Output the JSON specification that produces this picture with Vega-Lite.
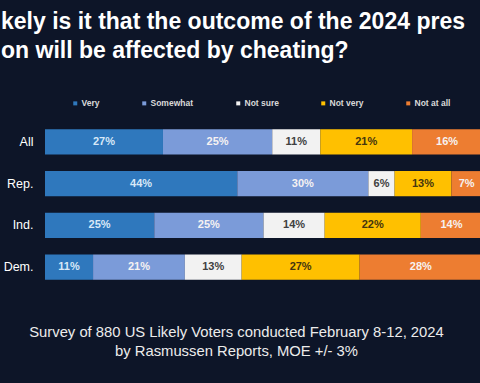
{
  "$schema": "https://vega.github.io/schema/vega-lite/v6.json",
  "width": 437,
  "height": 167,
  "autosize": {"type": "none"},
  "padding": {"left": 45, "top": 121, "right": 0, "bottom": 95},
  "background": "#0d1528",
  "view": {"stroke": null},
  "title": {
    "text": ["kely is it that the outcome of the 2024 pres", "on will be affected by cheating?"],
    "orient": "top",
    "anchor": "start",
    "frame": "group",
    "dx": -44,
    "offset": 36,
    "font": "Liberation Sans",
    "fontSize": 23,
    "fontWeight": "bold",
    "color": "#ffffff",
    "lineHeight": 29
  },
  "data": {
    "values": [
      {"group": "All", "category": "Very", "value": 27},
      {"group": "All", "category": "Somewhat", "value": 25},
      {"group": "All", "category": "Not sure", "value": 11},
      {"group": "All", "category": "Not very", "value": 21},
      {"group": "All", "category": "Not at all", "value": 16},
      {"group": "Rep.", "category": "Very", "value": 44},
      {"group": "Rep.", "category": "Somewhat", "value": 30},
      {"group": "Rep.", "category": "Not sure", "value": 6},
      {"group": "Rep.", "category": "Not very", "value": 13},
      {"group": "Rep.", "category": "Not at all", "value": 7},
      {"group": "Ind.", "category": "Very", "value": 25},
      {"group": "Ind.", "category": "Somewhat", "value": 25},
      {"group": "Ind.", "category": "Not sure", "value": 14},
      {"group": "Ind.", "category": "Not very", "value": 22},
      {"group": "Ind.", "category": "Not at all", "value": 14},
      {"group": "Dem.", "category": "Very", "value": 11},
      {"group": "Dem.", "category": "Somewhat", "value": 21},
      {"group": "Dem.", "category": "Not sure", "value": 13},
      {"group": "Dem.", "category": "Not very", "value": 27},
      {"group": "Dem.", "category": "Not at all", "value": 28}
    ]
  },
  "transform": [
    {"calculate": "indexof(['Very','Somewhat','Not sure','Not very','Not at all'], datum.category)", "as": "rank"},
    {"stack": "value", "groupby": ["group"], "sort": [{"field": "rank", "order": "ascending"}], "as": ["x0", "x1"]},
    {"calculate": "(datum.x0 + datum.x1) / 2", "as": "mid"},
    {"calculate": "datum.value + '%'", "as": "label"}
  ],
  "encoding": {
    "y": {
      "field": "group",
      "type": "nominal",
      "sort": ["All", "Rep.", "Ind.", "Dem."],
      "scale": {"paddingInner": 0.4, "paddingOuter": 0.2},
      "axis": {
        "title": null,
        "domain": false,
        "ticks": false,
        "tickSize": 0,
        "labelPadding": 12,
        "labelFont": "Liberation Sans",
        "labelFontSize": 12.5,
        "labelColor": "#ffffff"
      }
    }
  },
  "layer": [
    {
      "mark": {"type": "bar"},
      "encoding": {
        "x": {
          "field": "x0",
          "type": "quantitative",
          "scale": {"domain": [0, 100], "nice": false},
          "axis": {
            "labels": false,
            "ticks": false,
            "domain": false,
            "grid": false,
            "title": ["Survey of 880 US Likely Voters conducted February 8-12, 2024", "by Rasmussen Reports, MOE +/- 3%"],
            "titleX": 191,
            "titleY": 48,
            "titleAlign": "center",
            "titleBaseline": "alphabetic",
            "titleFont": "Liberation Sans",
            "titleFontSize": 14.8,
            "titleFontWeight": "normal",
            "titleColor": "#ececec",
            "titleLineHeight": 19
          }
        },
        "x2": {"field": "x1"},
        "color": {
          "field": "category",
          "type": "nominal",
          "scale": {
            "domain": ["Very", "Somewhat", "Not sure", "Not very", "Not at all"],
            "range": ["#2f78bd", "#7b9bd9", "#f2f2f2", "#ffc000", "#ed7d31"]
          },
          "legend": {
            "title": null,
            "orient": "none",
            "legendX": 26,
            "legendY": -22,
            "direction": "horizontal",
            "columns": 5,
            "columnPadding": 40,
            "symbolType": "square",
            "symbolSize": 16,
            "symbolStrokeWidth": 0,
            "labelOffset": 2,
            "labelFont": "Liberation Sans",
            "labelFontSize": 8.5,
            "labelFontWeight": "bold",
            "labelColor": "#d9d9d9"
          }
        }
      }
    },
    {
      "mark": {"type": "text", "font": "Liberation Sans", "fontSize": 11, "fontWeight": "bold"},
      "encoding": {
        "x": {"field": "mid", "type": "quantitative"},
        "text": {"field": "label"},
        "color": {
          "condition": [
            {"test": "datum.category === 'Not sure'", "value": "#404040"},
            {"test": "datum.category === 'Not very'", "value": "#45360f"},
            {"test": "datum.category === 'Very'", "value": "#d8e8f8"}
          ],
          "value": "#f6f2f2"
        }
      }
    }
  ]
}
